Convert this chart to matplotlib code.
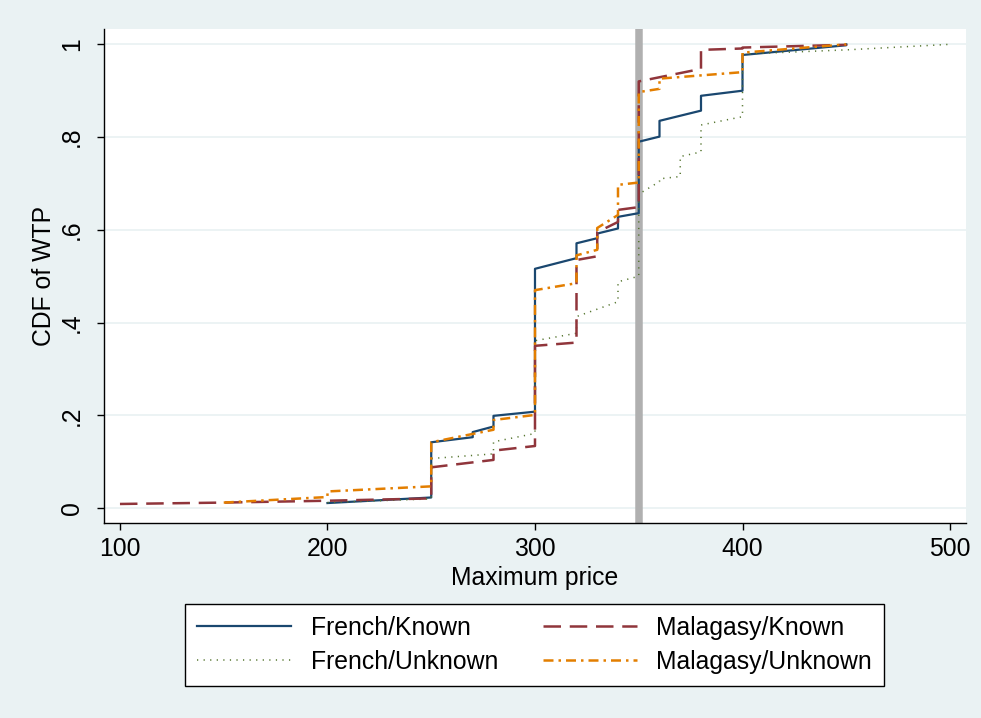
import matplotlib
matplotlib.use("Agg")
import matplotlib.pyplot as plt

plt.rcParams['font.family'] = ['Liberation Sans', 'DejaVu Sans']

# price levels and cumulative share at first/last observation of each price
fk_price = [200, 250, 270, 280, 300, 320, 330, 340, 350, 360, 380, 400, 450]
fk_low = [0.011, 0.023, 0.153, 0.176, 0.208, 0.539, 0.582, 0.603, 0.636, 0.801, 0.857, 0.900, 0.998]
fk_high = [0.011, 0.142, 0.164, 0.199, 0.516, 0.571, 0.592, 0.628, 0.790, 0.835, 0.889, 0.977, 1.0]

mk_price = [100, 150, 200, 250, 280, 300, 320, 330, 340, 350, 380, 400, 450]
mk_low = [0.009, 0.012, 0.016, 0.021, 0.104, 0.134, 0.357, 0.543, 0.617, 0.649, 0.947, 0.991, 0.999]
mk_high = [0.009, 0.012, 0.016, 0.088, 0.124, 0.350, 0.535, 0.595, 0.643, 0.920, 0.988, 0.993, 1.0]

fu_price = [200, 250, 280, 300, 320, 340, 350, 360, 370, 380, 400, 450, 500]
fu_low = [0.012, 0.020, 0.117, 0.161, 0.377, 0.445, 0.500, 0.704, 0.715, 0.768, 0.844, 0.988, 1.0]
fu_high = [0.012, 0.107, 0.143, 0.361, 0.413, 0.488, 0.677, 0.710, 0.758, 0.826, 0.979, 0.988, 1.0]

mu_price = [150, 200, 250, 280, 300, 320, 330, 340, 350, 360, 400, 450]
mu_low = [0.012, 0.024, 0.047, 0.169, 0.201, 0.485, 0.557, 0.632, 0.702, 0.904, 0.940, 1.0]
mu_high = [0.012, 0.036, 0.142, 0.190, 0.470, 0.545, 0.604, 0.697, 0.897, 0.926, 0.982, 1.0]

ref_price = 350
yticks = [0, 0.2, 0.4, 0.6, 0.8, 1]
ytick_labels = ["0", ".2", ".4", ".6", ".8", "1"]
xticks = [100, 200, 300, 400, 500]


def cdf_path(price, low, high):
    xs, ys = [], []
    for p, lo, hi in zip(price, low, high):
        xs += [p, p]
        ys += [lo, hi]
    return xs, ys


bg = "#EAF2F3"
fs = 17.8
fig = plt.figure(figsize=(9.81, 7.18), dpi=100, facecolor=bg)
ax = fig.add_axes([0.106, 0.2716, 0.8787, 0.688])
ax.set_facecolor("white")

for y in yticks:
    ax.axhline(y, color=bg, lw=1.3, zorder=0)
ax.axvline(ref_price, color="#B0B0B0", lw=5.4, zorder=1)

x, y = cdf_path(fk_price, fk_low, fk_high)
ax.plot(x, y, color="#1A476F", lw=1.6, label="French/Known", zorder=3)
x, y = cdf_path(fu_price, fu_low, fu_high)
ax.plot(x, y, color="#55752F", lw=1.1, dashes=(0.8, 3.5), label="French/Unknown", zorder=3)
x, y = cdf_path(mk_price, mk_low, mk_high)
ax.plot(x, y, color="#90353B", lw=1.8, dashes=(7, 3.5), label="Malagasy/Known", zorder=3)
x, y = cdf_path(mu_price, mu_low, mu_high)
ax.plot(x, y, color="#E37E00", lw=1.8, dashes=(4, 2, 1, 2), label="Malagasy/Unknown", zorder=3)

ax.set_xlim(92.3, 507.7)
ax.set_ylim(-0.032, 1.033)
ax.set_xticks(xticks)
ax.set_yticks(yticks)
ax.set_yticklabels(ytick_labels, rotation=90, va="center")
ax.tick_params(labelsize=fs, length=5, width=1, colors="black")
ax.tick_params(axis="y", pad=9.5)
ax.tick_params(axis="x", pad=5)
for side in ["top", "right"]:
    ax.spines[side].set_visible(False)
for side in ["left", "bottom"]:
    ax.spines[side].set_linewidth(1)
ax.set_xlabel("Maximum price", fontsize=fs, labelpad=4)
ax.set_ylabel("CDF of WTP", fontsize=fs, labelpad=3)

leg = fig.legend(loc="center", bbox_to_anchor=(0.5449, 0.1017), ncol=2,
                 fontsize=fs, handlelength=3.8, handletextpad=0.8,
                 columnspacing=1.8, labelspacing=0.4, borderpad=0.5,
                 fancybox=False, framealpha=1, edgecolor="black")
leg.get_frame().set_linewidth(1)

fig.savefig("out.png", dpi=100, facecolor=bg)
